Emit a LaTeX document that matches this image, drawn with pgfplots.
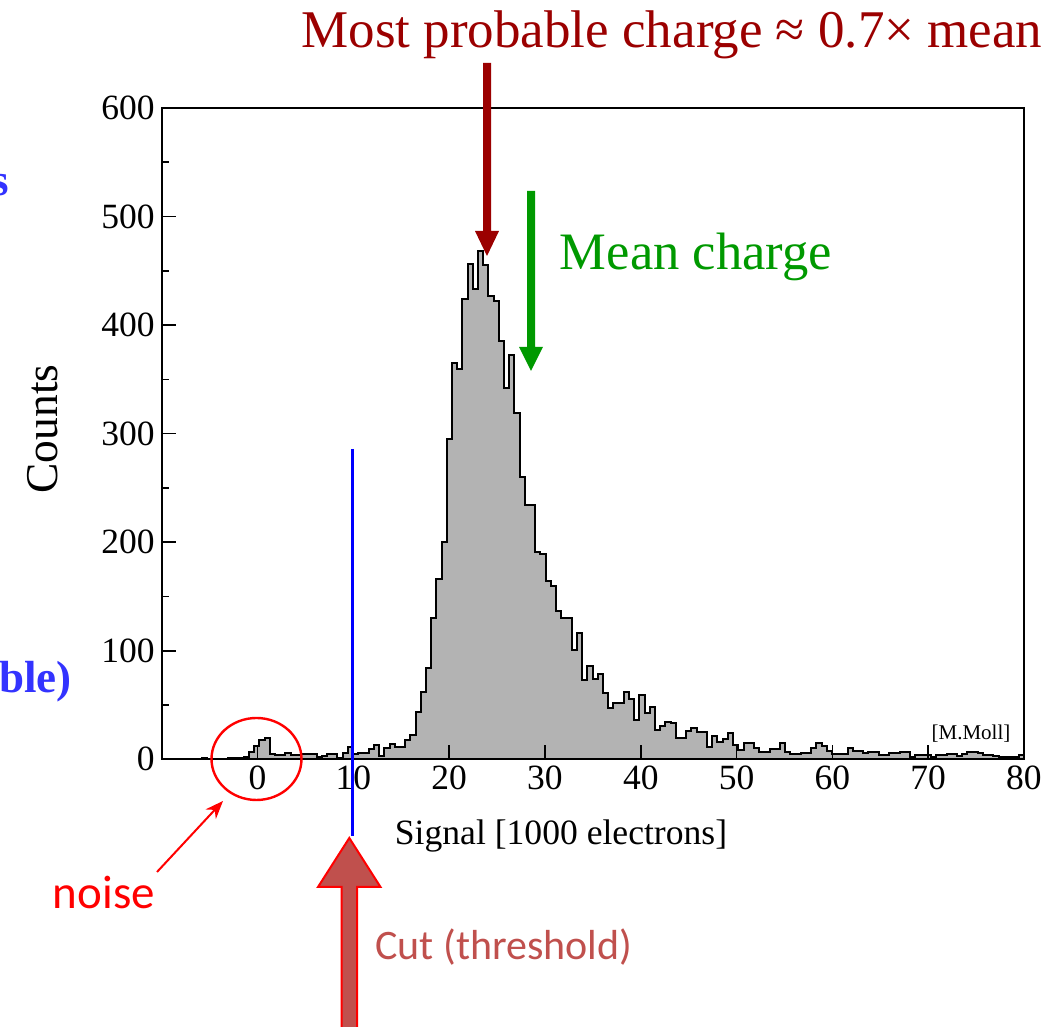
\documentclass[border=0pt]{standalone}
\usepackage{pgfplots}
\pgfplotsset{compat=1.18}
\usepackage{pgfplotstable}
\usepackage{fontspec}
\setmainfont{Liberation Serif}
\newfontfamily\calibri{Carlito}
\usetikzlibrary{arrows.meta}
\definecolor{histgray}{RGB}{179,179,179}
\definecolor{darkred}{RGB}{155,0,0}
\definecolor{mgreen}{RGB}{0,153,0}
\definecolor{cutfill}{RGB}{192,80,77}
\definecolor{blueline}{RGB}{0,0,255}
\definecolor{bluetext}{RGB}{51,51,255}

\pgfplotstableread{
x c
-10.125 0
-9.582 0
-9.039 0
-8.495 0
-7.952 0
-7.409 0
-6.865 0
-6.322 0.5
-5.779 1
-5.235 0.5
-4.692 0
-4.149 0
-3.606 0.5
-3.062 1
-2.519 1.5
-1.976 1.5
-1.432 2.5
-0.889 7
-0.346 12
0.198 18
0.741 20
1.284 4.5
1.827 4
2.371 4
2.914 6
3.457 4
4.001 4
4.544 5
5.087 5
5.631 5
6.174 2.5
6.717 3
7.260 5
7.804 5
8.347 1
8.890 6
9.434 11
9.977 4.5
10.520 6
11.064 6
11.607 9.5
12.150 13
12.693 3
13.237 10
13.780 14
14.323 11
14.867 11
15.410 18
15.953 22
16.497 44
17.040 62
17.583 84
18.127 130
18.670 166
19.213 200
19.756 295
20.300 365
20.843 360
21.386 424
21.930 456
22.473 433
23.016 468
23.560 455
24.103 427
24.646 422
25.189 385
25.733 342
26.276 372
26.819 319
27.363 260
27.906 234
28.449 234
28.993 191
29.536 189
30.079 164
30.622 160
31.166 137
31.709 130
32.252 130
32.796 101
33.339 116
33.882 73
34.426 86
34.969 74
35.512 79
36.055 61
36.599 47
37.142 52
37.685 52
38.229 62
38.772 56
39.315 36
39.859 59
40.402 43
40.945 48
41.488 27
42.032 31
42.575 34
43.118 33
43.662 20
44.205 20
44.748 26
45.292 29
45.835 25
46.378 25
46.921 11
47.465 21
48.008 16
48.551 19
49.095 24
49.638 13
50.181 9
50.725 15
51.268 15
51.811 10
52.354 7
52.898 7
53.441 9.5
53.984 9.5
54.528 15
55.071 7
55.614 5
56.158 5
56.701 5.5
57.244 6
57.787 10
58.331 15
58.874 12
59.417 8
59.961 5
60.504 5
61.047 5
61.591 10
62.134 8
62.677 8
63.220 5.5
63.764 7
64.307 7
64.850 4
65.394 4
65.937 5.5
66.480 5.5
67.024 6.5
67.567 6.5
68.110 2.5
68.653 4
69.197 4
69.740 3.5
70.283 2.5
70.827 4
71.370 4
71.913 4.5
72.457 4.5
73.000 3
73.543 4.5
74.086 6.5
74.630 6.5
75.173 5.5
75.716 4
76.260 4
76.803 3
77.346 2.5
77.890 2.5
78.433 2.5
78.976 2.5
79.520 3.5
80.063 3.5
}\hist

\begin{document}
\begin{tikzpicture}
\useasboundingbox (0,0) rectangle (531pt,513.5pt);
\begin{axis}[
  at={(80.85pt,133.85pt)}, anchor=south west,
  scale only axis, width=431.15pt, height=325.65pt,
  xmin=-10, xmax=80, ymin=0, ymax=600,
  xtick={0,10,...,80}, ytick={0,100,...,600},
  minor ytick={50,150,...,550},
  tick align=inside, xtick pos=bottom, ytick pos=left,
  major tick length=7pt, minor tick length=3.5pt,
  axis line style={line width=1pt},
  every tick/.style={black, line width=0.8pt},
  ticklabel style={font=\fontsize{17.75}{20}\selectfont},
  /pgf/number format/assume math mode=true,
  axis on top,
]
\addplot[const plot, fill=histgray, draw=black, line width=1pt] table[x=x,y=c]{\hist} \closedcycle;
\end{axis}
\begin{scope}[x=0.5pt, y=-0.5pt, yshift=513.5pt]
  % threshold line
  \draw[blueline, line width=1.5pt] (352,449) -- (352,836);
  % noise circle and arrow
  \draw[red, line width=1.2pt] (256.5,759) ellipse [x radius=45, y radius=41];
  \draw[red, line width=1pt, -{Stealth[length=9pt, width=7pt]}] (157,872) -- (223,801);
  \node[red, font=\calibri\fontsize{23.5}{26}\selectfont] at (104,893) {noise};
  % cut arrow
  \filldraw[fill=cutfill, draw=red, line width=1pt]
    (341.5,1040) -- (341.5,887) -- (318,887) -- (349.3,838) -- (380.5,887) -- (357,887) -- (357,1040) -- cycle;
  \node[cutfill, font=\calibri\fontsize{21}{24}\selectfont] at (504,947) {Cut (threshold)};
  % most probable
  \node[darkred, anchor=base, font=\fontsize{26.5}{30}\selectfont] at (672,48) {Most probable charge ≈ 0.7× mean};
  \fill[darkred] (483,63) -- (483,231) -- (475,231) -- (487,256) -- (499,231) -- (491,231) -- (491,63) -- cycle;
  % mean
  \fill[mgreen] (527,191) -- (527,347) -- (519,347) -- (531,371) -- (543,347) -- (535,347) -- (535,191) -- cycle;
  \node[mgreen, anchor=base, font=\fontsize{26.3}{30}\selectfont] at (696,270) {Mean charge};
  % labels
  \node[rotate=90, anchor=base, font=\fontsize{22.75}{26}\selectfont] at (57,429) {Counts};
  \node[anchor=base, font=\fontsize{17.8}{20}\selectfont] at (561,845) {Signal [1000 electrons]};
  \node[anchor=base, font=\fontsize{10.5}{12}\selectfont] at (971,740) {[M.Moll]};
  % cut-off blue text
  \node[bluetext, anchor=base east, inner sep=0pt, font=\bfseries\fontsize{22.5}{26}\selectfont] at (9,196) {s};
  \node[bluetext, anchor=base east, inner sep=0pt, font=\bfseries\fontsize{22.5}{26}\selectfont] at (72,693) {ble)};
\end{scope}
\end{tikzpicture}
\end{document}
